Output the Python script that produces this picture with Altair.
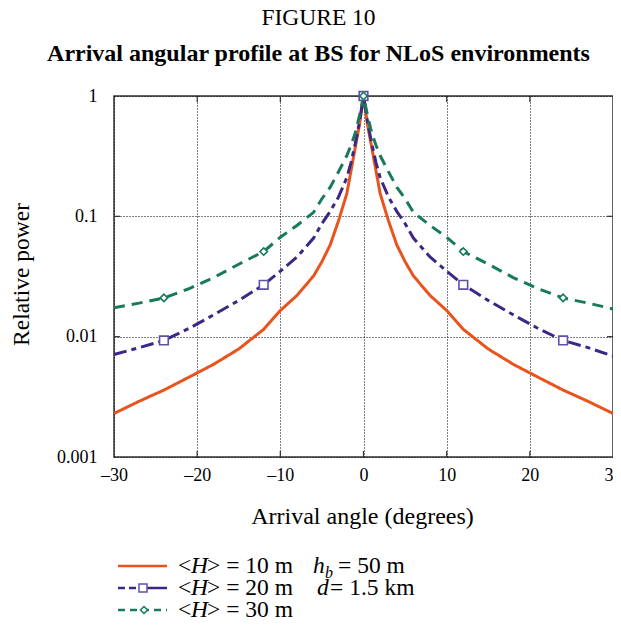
import altair as alt
import pandas as pd

# ---- data ----
angles = [-30, -27, -24, -21, -18, -15, -12, -10, -8, -6, -5, -4, -3, -2, -1.5, -1, -0.5,
          0,
          0.5, 1, 1.5, 2, 3, 4, 5, 6, 8, 10, 12, 15, 18, 21, 24, 27, 30]
power_h10 = [0.0023, 0.0029, 0.0036, 0.0046, 0.0059, 0.0079, 0.0115, 0.0165, 0.022, 0.032, 0.042, 0.058, 0.092, 0.155, 0.24, 0.37, 0.57,
             1.0,
             0.57, 0.37, 0.24, 0.155, 0.092, 0.058, 0.042, 0.032, 0.022, 0.0165, 0.0115, 0.0079, 0.0059, 0.0046, 0.0036, 0.0029, 0.0023]
power_h20 = [0.0071, 0.0081, 0.0093, 0.0117, 0.0152, 0.020, 0.027, 0.035, 0.046, 0.066, 0.087, 0.11, 0.145, 0.21, 0.28, 0.40, 0.60,
             1.0,
             0.60, 0.40, 0.28, 0.21, 0.145, 0.11, 0.087, 0.066, 0.046, 0.035, 0.027, 0.020, 0.0152, 0.0117, 0.0093, 0.0081, 0.0069]
power_h30 = [0.0174, 0.019, 0.021, 0.025, 0.031, 0.040, 0.051, 0.067, 0.084, 0.108, 0.14, 0.175, 0.235, 0.32, 0.39, 0.49, 0.68,
             1.0,
             0.68, 0.49, 0.39, 0.32, 0.235, 0.175, 0.14, 0.108, 0.084, 0.067, 0.051, 0.040, 0.031, 0.025, 0.021, 0.019, 0.0170]
series_heights = ["10", "20", "30"]
marker_angles = [-24, -12, 0, 12, 24]
x_ticks = [-30, -20, -10, 0, 10, 20, 30]
y_ticks = [0.001, 0.01, 0.1, 1]
x_inner_ticks = [-20, -10, 0, 10, 20]
y_inner_ticks = [0.01, 0.1]

FONT = "Liberation Serif"
colors = ["#E8531E", "#3D2785", "#177A5C"]
dashes = [[1, 0], [13, 5, 5, 5], [11, 7]]
W, H = 499, 361

rows = []
for h, vals in zip(series_heights, [power_h10, power_h20, power_h30]):
    for a, p in zip(angles, vals):
        rows.append({"angle": a, "power": p, "H": h})
df = pd.DataFrame(rows)

grid_style = dict(grid=True, gridColor="black", gridDash=[1, 2], gridWidth=1, gridOpacity=1)
x_enc = alt.X("angle:Q", scale=alt.Scale(domain=[-30, 30], nice=False),
              axis=alt.Axis(values=x_ticks, title="Arrival angle (degrees)",
                            labelExpr="datum.value < 0 ? '–' + abs(datum.value) : '' + datum.value",
                            labelFont=FONT, labelFontSize=18, labelColor="black", labelPadding=9,
                            labelFlush=False, labelOverlap=False,
                            titleFont=FONT, titleFontSize=24, titleFontWeight="normal", titleColor="black",
                            titleX=248, titleY=66, titleBaseline="alphabetic", titleAlign="center",
                            domain=False, ticks=False, **grid_style))
y_enc = alt.Y("power:Q", scale=alt.Scale(type="log", domain=[0.001, 1], nice=False),
              axis=alt.Axis(values=y_ticks, format="~g", title="Relative power",
                            labelFont=FONT, labelFontSize=18, labelColor="black", labelPadding=17,
                            labelFlush=False, labelOverlap=False, labelBaseline="middle",
                            titleFont=FONT, titleFontSize=23.5, titleFontWeight="normal", titleColor="black",
                            titleX=-86, titleY=178, titleAngle=270, titleBaseline="alphabetic", titleAlign="center",
                            domain=False, ticks=False, **grid_style))

color_scale = alt.Scale(domain=series_heights, range=colors)
dash_scale = alt.Scale(domain=series_heights, range=dashes)

lines = alt.Chart(df).mark_line(strokeWidth=3).encode(
    x=x_enc, y=y_enc,
    color=alt.Color("H:N", scale=color_scale, legend=None),
    strokeDash=alt.StrokeDash("H:N", scale=dash_scale, legend=None),
    order="angle:Q",
)

marker_list = "[" + ",".join(str(a) for a in marker_angles) + "]"
squares = alt.Chart(df).transform_filter(
    "datum.H == '20' && indexof(" + marker_list + ", datum.angle) >= 0"
).mark_point(shape="square", size=75, filled=True, fill="white", stroke="#6050A8", strokeWidth=1.6, opacity=1).encode(
    x="angle:Q", y="power:Q")
diamonds = alt.Chart(df).transform_filter(
    "datum.H == '30' && indexof(" + marker_list + ", datum.angle) >= 0"
).mark_point(shape="diamond", size=55, filled=True, fill="white", stroke="#177A5C", strokeWidth=1.6, opacity=1).encode(
    x="angle:Q", y="power:Q")

# inward tick marks on the frame
xt = pd.DataFrame({"angle": x_inner_ticks})
yt = pd.DataFrame({"power": y_inner_ticks})
tick_color = "#333333"
ticks = [
    alt.Chart(xt).mark_rule(color=tick_color, strokeWidth=1.2).encode(x="angle:Q", y=alt.value(H - 6), y2=alt.value(H)),
    alt.Chart(xt).mark_rule(color=tick_color, strokeWidth=1.2).encode(x="angle:Q", y=alt.value(0), y2=alt.value(6)),
    alt.Chart(yt).mark_rule(color=tick_color, strokeWidth=1.2).encode(y="power:Q", x=alt.value(0), x2=alt.value(6)),
    alt.Chart(yt).mark_rule(color=tick_color, strokeWidth=1.2).encode(y="power:Q", x=alt.value(W - 6), x2=alt.value(W)),
]

# ---- hand-built legend below the plot ----
one = pd.DataFrame({"k": [0]})
legend_layers = []
row_y = [470, 492, 514]
LF = 23.5
for i, h in enumerate(series_heights):
    yv = row_y[i]
    if i == 1:
        legend_layers.append(alt.Chart(one).mark_rule(color=colors[i], strokeWidth=2.5, strokeDash=[7, 4]).encode(
            x=alt.value(4), x2=alt.value(29), y=alt.value(yv)))
        legend_layers.append(alt.Chart(one).mark_rule(color=colors[i], strokeWidth=2.5).encode(
            x=alt.value(29), x2=alt.value(53), y=alt.value(yv)))
        legend_layers.append(alt.Chart(one).mark_point(shape="square", size=65, filled=True, fill="white",
                                                       stroke="#6050A8", strokeWidth=1.5, opacity=1).encode(
            x=alt.value(29), y=alt.value(yv)))
    elif i == 2:
        legend_layers.append(alt.Chart(one).mark_rule(color=colors[i], strokeWidth=2.5, strokeDash=[7, 5]).encode(
            x=alt.value(4), x2=alt.value(53), y=alt.value(yv)))
        legend_layers.append(alt.Chart(one).mark_point(shape="diamond", size=50, filled=True, fill="white",
                                                       stroke="#177A5C", strokeWidth=1.5, opacity=1).encode(
            x=alt.value(30), y=alt.value(yv)))
    else:
        legend_layers.append(alt.Chart(one).mark_rule(color=colors[i], strokeWidth=2.5).encode(
            x=alt.value(4), x2=alt.value(53), y=alt.value(yv)))
    legend_layers.append(alt.Chart(one).mark_text(font=FONT, fontSize=LF, align="left", baseline="middle", color="black").encode(
        x=alt.value(64), y=alt.value(yv), text=alt.value("<")))
    legend_layers.append(alt.Chart(one).mark_text(font=FONT, fontSize=LF, fontStyle="italic", align="left", baseline="middle", color="black").encode(
        x=alt.value(77), y=alt.value(yv), text=alt.value("H")))
    legend_layers.append(alt.Chart(one).mark_text(font=FONT, fontSize=LF, align="left", baseline="middle", color="black").encode(
        x=alt.value(93), y=alt.value(yv), text=alt.value("> = " + h + " m")))

extra = [
    ("h", 199, row_y[0], LF, "italic", 0),
    ("b", 211, row_y[0], 16, "italic", 7),
    ("= 50 m", 224, row_y[0], LF, "normal", 0),
    ("d", 203, row_y[1], LF, "italic", 0),
    ("= 1.5 km", 216, row_y[1], LF, "normal", 0),
]
for txt, xv, yv, fs, st, dy in extra:
    legend_layers.append(alt.Chart(one).mark_text(font=FONT, fontSize=fs, fontStyle=st, align="left",
                                                  baseline="middle", color="black", dy=dy).encode(
        x=alt.value(xv), y=alt.value(yv), text=alt.value(txt)))

chart = alt.layer(lines, *ticks, squares, diamonds, *legend_layers).properties(
    width=W, height=H,
    autosize=alt.AutoSizeParams(type="none"),
    padding={"left": 106, "top": 88, "right": 0, "bottom": 162},
    title=alt.TitleParams(text="FIGURE 10", subtitle="Arrival angular profile at BS for NLoS environments",
                          font=FONT, fontSize=23.5, fontWeight="normal", color="black",
                          subtitleFont=FONT, subtitleFontSize=24, subtitleFontWeight="bold", subtitleColor="black",
                          anchor="middle", frame="group", dx=-45, offset=21, subtitlePadding=13),
).configure_view(stroke="#333333", strokeWidth=1.5)

chart.save("out.html", embed_options={"renderer": "svg", "actions": False})
